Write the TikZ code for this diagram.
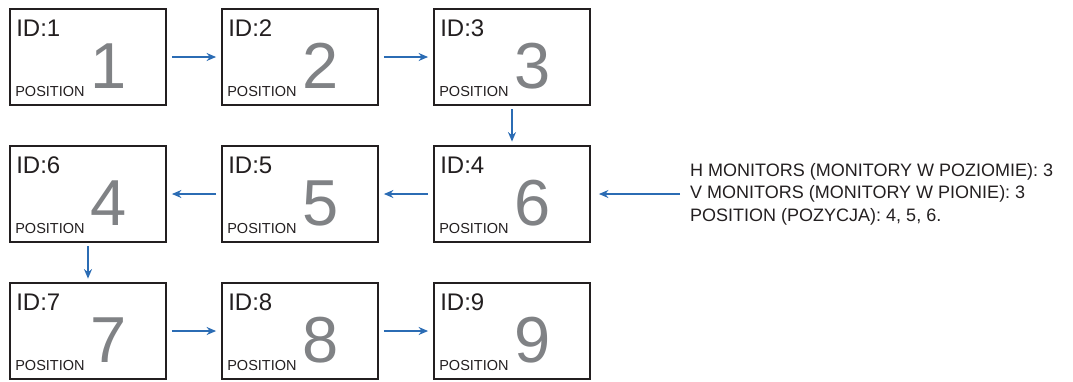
\documentclass[tikz,border=0pt]{standalone}
\usepackage{fontspec}
\setmainfont{Liberation Sans}
\usetikzlibrary{arrows.meta}
\definecolor{boxline}{HTML}{231F20}
\definecolor{digitgray}{HTML}{808285}
\definecolor{arrblue}{HTML}{2B6CB4}
\definecolor{txt}{HTML}{231F20}
\tikzset{
  screen/.style={draw=boxline, line width=1.8pt, minimum width=156pt, minimum height=96pt, inner sep=0pt, fill=white},
  idtext/.style={anchor=base west, inner sep=0pt, text=txt, font=\fontsize{24}{28}\selectfont},
  postext/.style={anchor=base west, inner sep=0pt, text=txt, font=\fontsize{14.5}{17}\selectfont},
  bigdigit/.style={anchor=base, inner sep=0pt, text=digitgray, font=\fontsize{65}{70}\selectfont},
  infotext/.style={anchor=west, inner sep=0pt, text=txt, align=left, font=\fontsize{18}{22.5}\selectfont},
  arr/.style={draw=arrblue, line width=1.4pt, -{Stealth[length=9.5pt,width=8pt]}}
}
\newcommand{\monitor}[5]{%
  % #1 name, #2 x-left, #3 y-top, #4 ID, #5 position digit
  \node[screen] (#1) at (#2+78,#3+48) {};
  \node[idtext] (#1id) at ([shift={(7,28)}]#1.north west) {ID:#4};
  \node[postext] (#1pos) at ([shift={(6,88)}]#1.north west) {POSITION};
  \node[bigdigit] (#1dig) at ([shift={(99,80)}]#1.north west) {#5};
}
\begin{document}
\begin{tikzpicture}[x=1pt,y=-1pt]
\useasboundingbox (0,0) rectangle (1073,381);
\monitor{m1}{10}{9}{1}{1}
\monitor{m2}{222}{9}{2}{2}
\monitor{m3}{434}{9}{3}{3}
\monitor{m4}{434}{146}{4}{6}
\monitor{m5}{222}{146}{5}{5}
\monitor{m6}{10}{146}{6}{4}
\monitor{m7}{10}{283}{7}{7}
\monitor{m8}{222}{283}{8}{8}
\monitor{m9}{434}{283}{9}{9}
\draw[arr, shorten <=5pt, shorten >=5pt] (m1.east) -- (m2.west);
\draw[arr, shorten <=5pt, shorten >=5pt] (m2.east) -- (m3.west);
\draw[arr, shorten <=3.5pt, shorten >=3.5pt] (m3.south) -- (m4.north);
\draw[arr, shorten <=5pt, shorten >=5pt] (m4.west) -- (m5.east);
\draw[arr, shorten <=5pt, shorten >=5pt] (m5.west) -- (m6.east);
\draw[arr, shorten <=3.5pt, shorten >=3.5pt] (m6.south) -- (m7.north);
\draw[arr, shorten <=5pt, shorten >=5pt] (m7.east) -- (m8.west);
\draw[arr, shorten <=5pt, shorten >=5pt] (m8.east) -- (m9.west);
\node[infotext] (info) at (690,194) {H MONITORS (MONITORY W POZIOMIE): 3\\V MONITORS (MONITORY W PIONIE): 3\\POSITION (POZYCJA): 4, 5, 6.};
\draw[arr, shorten <=10pt, shorten >=8pt] (info.west |- m4.east) -- (m4.east);
\end{tikzpicture}
\end{document}
